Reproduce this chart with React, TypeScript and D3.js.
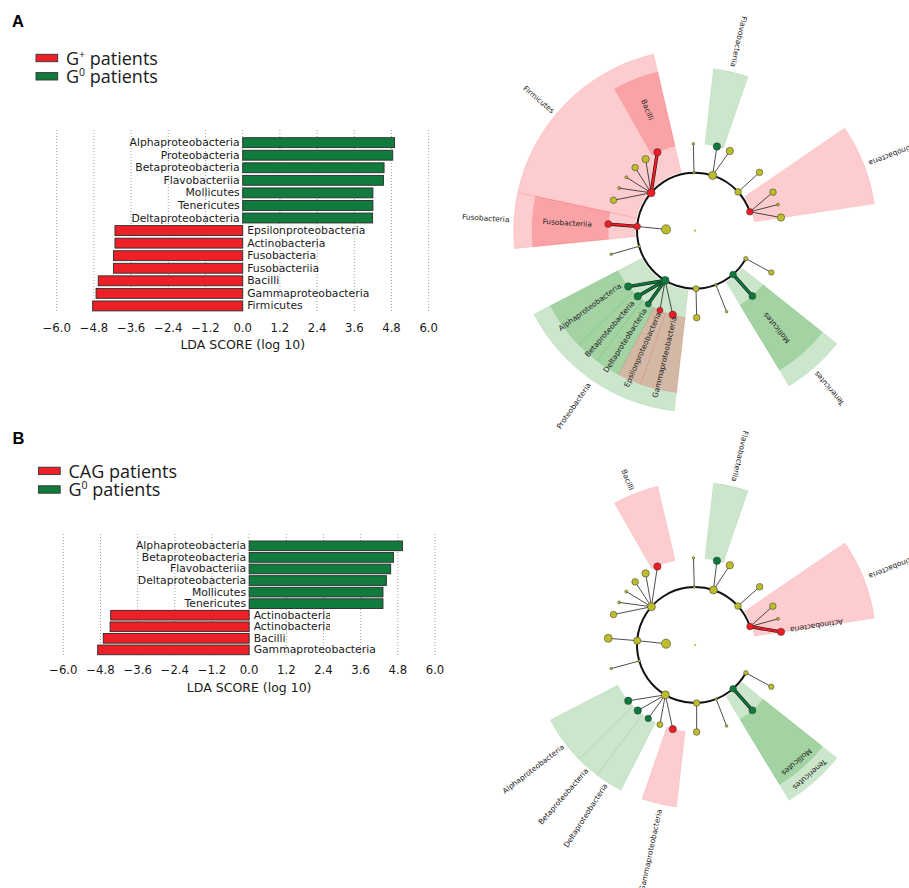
import React from "react";
import * as d3 from "d3";

// ---------- bar chart data ----------
const ticks = [-6.0, -4.8, -3.6, -2.4, -1.2, 0.0, 1.2, 2.4, 3.6, 4.8, 6.0];

const barNamesA = [
  "Alphaproteobacteria", "Proteobacteria", "Betaproteobacteria", "Flavobacteriia",
  "Mollicutes", "Tenericutes", "Deltaproteobacteria", "Epsilonproteobacteria",
  "Actinobacteria", "Fusobacteria", "Fusobacteriia", "Bacilli",
  "Gammaproteobacteria", "Firmicutes",
];
const barValuesA = [4.9, 4.84, 4.56, 4.54, 4.2, 4.2, 4.19, -4.12, -4.12, -4.17, -4.17, -4.66, -4.73, -4.84];

const barNamesB = [
  "Alphaproteobacteria", "Betaproteobacteria", "Flavobacteriia", "Deltaproteobacteria",
  "Mollicutes", "Tenericutes", "Actinobacteria", "Actinobacteria", "Bacilli",
  "Gammaproteobacteria",
];
const barValuesB = [4.95, 4.66, 4.57, 4.43, 4.32, 4.32, -4.47, -4.49, -4.71, -4.89];

// legend entries: [main, superscript, rest], colour key
const legendA = [
  { c: "r", main: "G", sup: "+", rest: " patients" },
  { c: "g", main: "G", sup: "0", rest: " patients" },
];
const legendB = [
  { c: "r", main: "CAG", sup: "", rest: " patients" },
  { c: "g", main: "G", sup: "0", rest: " patients" },
];

// ---------- cladogram data (angles in degrees, screen orientation) ----------
// phylum nodes: angle, size, colour
const phylaA = [
  { a: -19, s: 3.3, c: "r" }, { a: -42, s: 3.3, c: "y" }, { a: -72.3, s: 4, c: "y" },
  { a: -91, s: 1.3, c: "y" }, { a: 220.8, s: 4, c: "r" }, { a: 184.2, s: 3.3, c: "r" },
  { a: 164.4, s: 1.3, c: "y" }, { a: 121, s: 4, c: "g" }, { a: 89, s: 3, c: "y" },
  { a: 68.9, s: 1.3, c: "y" }, { a: 49, s: 3.3, c: "g" }, { a: 28.8, s: 2.2, c: "y" },
];
// class nodes: parent index, angle, size, colour, level
const classesA = [
  { p: 0, a: -26.3, s: 3.3, c: "y", l: 2 }, { p: 0, a: -17.5, s: 1.5, c: "y", l: 2 },
  { p: 0, a: -8.7, s: 3.7, c: "y", l: 2 }, { p: 1, a: -42.1, s: 3.3, c: "y", l: 2 },
  { p: 2, a: -75.4, s: 3.7, c: "g", l: 2 }, { p: 2, a: -66.4, s: 3.7, c: "y", l: 2 },
  { p: 3, a: -91.1, s: 1.3, c: "y", l: 2 }, { p: 4, a: 244.4, s: 3.7, c: "r", l: 2 },
  { p: 4, a: 235.4, s: 3.7, c: "y", l: 2 }, { p: 4, a: 226.5, s: 3.3, c: "y", l: 2 },
  { p: 4, a: 217.9, s: 1.5, c: "y", l: 2 }, { p: 4, a: 209.3, s: 1.5, c: "y", l: 2 },
  { p: 4, a: 200.5, s: 3.3, c: "y", l: 2 }, { p: 5, a: 184.4, s: 3.5, c: "r", l: 2 },
  { p: 5, a: 182.6, s: 4.6, c: "y", l: 0.5 }, { p: 6, a: 164.3, s: 1.3, c: "y", l: 2 },
  { p: 7, a: 140.1, s: 3.7, c: "g", l: 2 }, { p: 7, a: 131.1, s: 3.7, c: "g", l: 2 },
  { p: 7, a: 122.5, s: 3.0, c: "g", l: 2 }, { p: 7, a: 113.8, s: 3.0, c: "r", l: 2 },
  { p: 7, a: 104.8, s: 3.7, c: "r", l: 2 }, { p: 8, a: 88.9, s: 3.3, c: "y", l: 2 },
  { p: 9, a: 68.7, s: 1.3, c: "y", l: 2 }, { p: 10, a: 48.7, s: 3.5, c: "g", l: 2 },
  { p: 11, a: 28.7, s: 2.7, c: "y", l: 2 },
];
const wedgesA = [
  { a0: -34.5, a1: -8.5, lev: "p", c: "r" },
  { a0: -83.5, a1: -71, lev: "c", c: "g" },
  { a0: 192.2, a1: 256.8, lev: "p", c: "r" },
  { a0: 240.4, a1: 256.8, lev: "c", c: "r" },
  { a0: 174.3, a1: 192.2, lev: "p", c: "r" },
  { a0: 174.3, a1: 192.2, lev: "c", c: "r" },
  { a0: 96.5, a1: 152.6, lev: "p", c: "g" },
  { a0: 135.5, a1: 152.6, lev: "c", c: "g" },
  { a0: 127, a1: 135.5, lev: "c", c: "g" },
  { a0: 118, a1: 127, lev: "c", c: "g" },
  { a0: 109.5, a1: 118, lev: "c", c: "r" },
  { a0: 96.5, a1: 109.5, lev: "c", c: "r" },
  { a0: 38.5, a1: 58.8, lev: "p", c: "g" },
  { a0: 38.5, a1: 58.8, lev: "c", c: "g" },
];
const labelsA = [
  { t: "Actinobacteria", a: -21.1, r: 186.5, anchor: "end", o: "rad" },
  { t: "Flavobacteriia", a: -77, r: 168, anchor: "end", o: "rad" },
  { t: "Firmicutes", a: 220, r: 185, anchor: "end", o: "rad" },
  { t: "Bacilli", a: 248.5, r: 130, anchor: "middle", o: "rad" },
  { t: "Fusobacteria", a: 183.4, r: 186, anchor: "end", o: "rad" },
  { t: "Fusobacteriia", a: 183.5, r: 128, anchor: "middle", o: "rad" },
  { t: "Alphaproteobacteria", a: 144, r: 130, anchor: "middle", o: "rad" },
  { t: "Betaproteobacteria", a: 131, r: 130, anchor: "middle", o: "rad" },
  { t: "Deltaproteobacteria", a: 122.5, r: 130, anchor: "middle", o: "rad" },
  { t: "Epsilonproteobacteria", a: 113.8, r: 130, anchor: "middle", o: "rad" },
  { t: "Gammaproteobacteria", a: 103.5, r: 130, anchor: "middle", o: "rad" },
  { t: "Proteobacteria", a: 124.7, r: 186, anchor: "end", o: "rad" },
  { t: "Mollicutes", a: 50, r: 127, anchor: "middle", o: "rad" },
  { t: "Tenericutes", a: 49.6, r: 186, anchor: "end", o: "rad" },
];

const phylaB = [
  { a: -18.5, s: 3.3, c: "r" }, { a: -42.2, s: 3.3, c: "y" }, { a: -71.4, s: 4, c: "y" },
  { a: -90.7, s: 1.3, c: "y" }, { a: 221.3, s: 4, c: "y" }, { a: 184.3, s: 3.6, c: "y" },
  { a: 164, s: 1.3, c: "y" }, { a: 120.7, s: 4, c: "y" }, { a: 88.4, s: 3.3, c: "y" },
  { a: 68.6, s: 1.3, c: "y" }, { a: 48.9, s: 3.3, c: "g" }, { a: 28.7, s: 2.3, c: "y" },
];
const classesB = [
  { p: 0, a: -26.5, s: 3.3, c: "y", l: 2 }, { p: 0, a: -17.5, s: 1.5, c: "y", l: 2 },
  { p: 0, a: -8.7, s: 3.7, c: "r", l: 2 }, { p: 1, a: -42, s: 3.3, c: "y", l: 2 },
  { p: 2, a: -75.4, s: 3.7, c: "g", l: 2 }, { p: 2, a: -66.4, s: 3.7, c: "y", l: 2 },
  { p: 3, a: -91, s: 1.3, c: "y", l: 2 }, { p: 4, a: 244.4, s: 3.7, c: "r", l: 2 },
  { p: 4, a: 235.4, s: 3.7, c: "y", l: 2 }, { p: 4, a: 226.5, s: 3.3, c: "y", l: 2 },
  { p: 4, a: 217.9, s: 1.5, c: "y", l: 2 }, { p: 4, a: 209.3, s: 1.5, c: "y", l: 2 },
  { p: 4, a: 200.5, s: 3.3, c: "y", l: 2 }, { p: 5, a: 184.4, s: 4, c: "y", l: 2 },
  { p: 5, a: 182.6, s: 4.6, c: "y", l: 0.5 }, { p: 6, a: 164.3, s: 1.3, c: "y", l: 2 },
  { p: 7, a: 140.1, s: 3.7, c: "g", l: 2 }, { p: 7, a: 131.1, s: 3.7, c: "g", l: 2 },
  { p: 7, a: 122.5, s: 3.2, c: "g", l: 2 }, { p: 7, a: 113.8, s: 3.0, c: "y", l: 2 },
  { p: 7, a: 104.8, s: 3.7, c: "r", l: 2 }, { p: 8, a: 88.9, s: 3.3, c: "y", l: 2 },
  { p: 9, a: 68.7, s: 1.3, c: "y", l: 2 }, { p: 10, a: 48.7, s: 3.5, c: "g", l: 2 },
  { p: 11, a: 28.7, s: 2.7, c: "y", l: 2 },
];
const wedgesB = [
  { a0: -34.3, a1: -8.5, lev: "p", c: "r" },
  { a0: -83.5, a1: -71, lev: "c", c: "g" },
  { a0: 240.4, a1: 256.8, lev: "c", c: "r" },
  { a0: 135.5, a1: 152.6, lev: "c", c: "g" },
  { a0: 127, a1: 135.5, lev: "c", c: "g" },
  { a0: 117, a1: 127, lev: "c", c: "g" },
  { a0: 96.5, a1: 109, lev: "c", c: "r" },
  { a0: 38.5, a1: 58.8, lev: "p", c: "g" },
  { a0: 38.5, a1: 58.8, lev: "c", c: "g" },
];
const labelsB = [
  { t: "Actinobacteria", a: -21.5, r: 187, anchor: "end", o: "rad" },
  { t: "Flavobacteriia", a: -76.6, r: 168, anchor: "end", o: "rad" },
  { t: "Bacilli", a: 247.8, r: 167.5, anchor: "end", o: "rad" },
  { t: "Actinobacteria", a: -9, r: 123, anchor: "middle", o: "rad" },
  { t: "Alphaproteobacteria", a: 142.5, r: 166, anchor: "end", o: "rad" },
  { t: "Betaproteobacteria", a: 131, r: 165, anchor: "end", o: "rad" },
  { t: "Deltaproteobacteria", a: 122.7, r: 165.5, anchor: "end", o: "rad" },
  { t: "Gammaproteobacteria", a: 102.2, r: 168, anchor: "end", o: "rad" },
  { t: "Mollicutes", a: 49, r: 155, anchor: "middle", o: "tan" },
  { t: "Tenericutes", a: 48.5, r: 173, anchor: "middle", o: "tan" },
];

// ---------- styles ----------
const NODE = { r: "#ee1c25", g: "#0d7a3b", y: "#bdbd2b" };
const BAR = { r: "#ee2027", g: "#117a3d" };
const WEDGE = { r: "#f0000a", g: "#008000" };
const SANS = "'DejaVu Sans', sans-serif";
const rad = (d: number) => (d * Math.PI) / 180;

function BarPanel(props: any) {
  const { names, values, x0, x1, yTop, step, barH, gridTop, gridBottom, tickY, titleY, clipId, clipX } = props;
  const n = names.length;
  const x = d3.scaleLinear().domain([-6, 6]).range([x0, x1]);
  const p = 1 - barH / step;
  const start = yTop - (step * p) / 2;
  const y = d3
    .scaleBand<number>()
    .domain(d3.range(n))
    .range([start, start + n * step])
    .paddingInner(p)
    .paddingOuter(p / 2);
  const fmt = (v: number) => (v < 0 ? "\u2212" : "") + Math.abs(v).toFixed(1);
  return (
    <g>
      {clipId && (
        <defs>
          <clipPath id={clipId}>
            <rect x={0} y={0} width={clipX} height={888} />
          </clipPath>
        </defs>
      )}
      {ticks.map((t) => (
        <line key={t} x1={x(t)} x2={x(t)} y1={gridTop} y2={gridBottom} stroke="#8a8a8a" strokeWidth={0.8} strokeDasharray="1 2" />
      ))}
      {values.map((v: number, i: number) => (
        <rect
          key={i}
          x={x(Math.min(0, v))}
          y={y(i)}
          width={Math.abs(x(v) - x(0))}
          height={y.bandwidth()}
          fill={v > 0 ? BAR.g : BAR.r}
          stroke="#2b2b2b"
          strokeWidth={0.9}
        />
      ))}
      {values.map((v: number, i: number) => (
        <text
          key={"l" + i}
          x={v > 0 ? x(0) - 3 : x(0) + 4.5}
          y={(y(i) as number) + y.bandwidth() / 2}
          textAnchor={v > 0 ? "end" : "start"}
          dominantBaseline="central"
          fontFamily={SANS}
          fontSize={10.8}
          fill="#1a1a1a"
          clipPath={clipId && names[i] === "Actinobacteria" ? `url(#${clipId})` : undefined}
        >
          {names[i]}
        </text>
      ))}
      {ticks.map((t) => (
        <text key={"t" + t} x={x(t)} y={tickY} textAnchor="middle" fontFamily={SANS} fontSize={11.7} fill="#1a1a1a">
          {fmt(t)}
        </text>
      ))}
      <text x={x(0)} y={titleY} textAnchor="middle" fontFamily={SANS} fontSize={12.5} fill="#1a1a1a">
        LDA SCORE (log 10)
      </text>
    </g>
  );
}

function Legend(props: any) {
  const { entries, x, y0, dy } = props;
  return (
    <g>
      {entries.map((e: any, i: number) => {
        const by = y0 + i * dy;
        return (
          <g key={i}>
            <rect x={x} y={by - 10.3} width={21.7} height={7.4} fill={BAR[e.c as "r" | "g"]} stroke="#333" strokeWidth={0.9} />
            <text x={x + 30} y={by} fontFamily="'Open Sans', sans-serif" fontSize={18} fill="#1a1a1a">
              <tspan>{e.main}</tspan>
              {e.sup && (
                <tspan dy={-7} fontSize={10.5}>
                  {e.sup}
                </tspan>
              )}
              <tspan dy={e.sup ? 7 : 0}>{e.rest}</tspan>
            </text>
          </g>
        );
      })}
    </g>
  );
}

function Cladogram(props: any) {
  const { cx, cy, phyla, classes, wedges, labels } = props;
  const rScale = d3.scaleLinear().domain([0, 1, 2]).range([0, 58, 87]);
  const pt = (lev: number, ang: number) => [cx + rScale(lev) * Math.cos(rad(ang)), cy + rScale(lev) * Math.sin(rad(ang))];
  const wedgeR: any = { p: [60, 181.5], c: [87, 163] };
  const arcGen = d3.arc<any>();
  const norm = phyla.map((p: any) => ((p.a % 360) + 360) % 360);
  const ring = d3.path();
  ring.arc(cx, cy, rScale(1), rad(d3.min(norm) as number), rad(d3.max(norm) as number), false);
  return (
    <g>
      {wedges.map((w: any, i: number) => (
        <path
          key={"w" + i}
          transform={`translate(${cx},${cy})`}
          d={
            arcGen({
              innerRadius: wedgeR[w.lev][0],
              outerRadius: wedgeR[w.lev][1],
              startAngle: rad(w.a0 + 90),
              endAngle: rad(w.a1 + 90),
            }) as string
          }
          fill={WEDGE[w.c as "r" | "g"]}
          fillOpacity={0.2}
          stroke={WEDGE[w.c as "r" | "g"]}
          strokeOpacity={0.12}
          strokeWidth={0.6}
        />
      ))}
      <path d={ring.toString()} fill="none" stroke="#111" strokeWidth={2} />
      {classes.map((c: any, i: number) => {
        const par = phyla[c.p];
        const [x1, y1] = pt(1, par.a);
        const [x2, y2] = pt(c.l, c.a);
        const thick = c.c !== "y" && c.c === par.c;
        return thick ? (
          <g key={"e" + i}>
            <line x1={x1} y1={y1} x2={x2} y2={y2} stroke="#111" strokeWidth={3.3} />
            <line x1={x1} y1={y1} x2={x2} y2={y2} stroke={NODE[c.c as "r" | "g"]} strokeWidth={2.2} />
          </g>
        ) : (
          <line key={"e" + i} x1={x1} y1={y1} x2={x2} y2={y2} stroke="#222" strokeWidth={0.8} />
        );
      })}
      <circle cx={cx} cy={cy} r={1.1} fill={NODE.y} />
      {phyla.map((p: any, i: number) => {
        const [x, y] = pt(1, p.a);
        return <circle key={"p" + i} cx={x} cy={y} r={p.s} fill={NODE[p.c as "r" | "g" | "y"]} stroke="#333" strokeWidth={0.5} />;
      })}
      {classes.map((c: any, i: number) => {
        const [x, y] = pt(c.l, c.a);
        return <circle key={"c" + i} cx={x} cy={y} r={c.s} fill={NODE[c.c as "r" | "g" | "y"]} stroke="#333" strokeWidth={0.5} />;
      })}
      {labels.map((l: any, i: number) => {
        const x = cx + l.r * Math.cos(rad(l.a));
        const y = cy + l.r * Math.sin(rad(l.a));
        const rot = l.o === "rad" ? l.a + 180 : l.a + 90;
        return (
          <text
            key={"t" + i}
            transform={`translate(${x},${y}) rotate(${rot})`}
            textAnchor={l.anchor}
            dominantBaseline="central"
            fontFamily={SANS}
            fontSize={7.4}
            fill="#1a1a1a"
          >
            {l.t}
          </text>
        );
      })}
    </g>
  );
}

export default function App() {
  return (
    <svg
      width={909}
      height={888}
      viewBox="0 0 909 888"
      style={{ position: "absolute", left: 0, top: 0, display: "block", background: "#fff" }}
    >
      <rect x={0} y={0} width={909} height={888} fill="#fff" />
      <text x={12} y={27} fontFamily="'Liberation Sans', Arial, sans-serif" fontWeight="bold" fontSize={16.5} fill="#000">
        A
      </text>
      <text x={12.5} y={443.5} fontFamily="'Liberation Sans', Arial, sans-serif" fontWeight="bold" fontSize={16.5} fill="#000">
        B
      </text>
      <Legend entries={legendA} x={36} y0={64.6} dy={18.3} />
      <Legend entries={legendB} x={38.5} y0={477.5} dy={18.6} />
      <BarPanel
        names={barNamesA}
        values={barValuesA}
        x0={56.7}
        x1={428.7}
        yTop={137.7}
        step={12.56}
        barH={9.9}
        gridTop={130}
        gridBottom={313}
        tickY={332}
        titleY={348.5}
      />
      <BarPanel
        names={barNamesB}
        values={barValuesB}
        x0={63.3}
        x1={435}
        yTop={541}
        step={11.56}
        barH={9.7}
        gridTop={534}
        gridBottom={656}
        tickY={674}
        titleY={692}
        clipId="clipB"
        clipX={330}
      />
      <Cladogram cx={695} cy={230.7} phyla={phylaA} classes={classesA} wedges={wedgesA} labels={labelsA} />
      <Cladogram cx={695} cy={645} phyla={phylaB} classes={classesB} wedges={wedgesB} labels={labelsB} />
    </svg>
  );
}
